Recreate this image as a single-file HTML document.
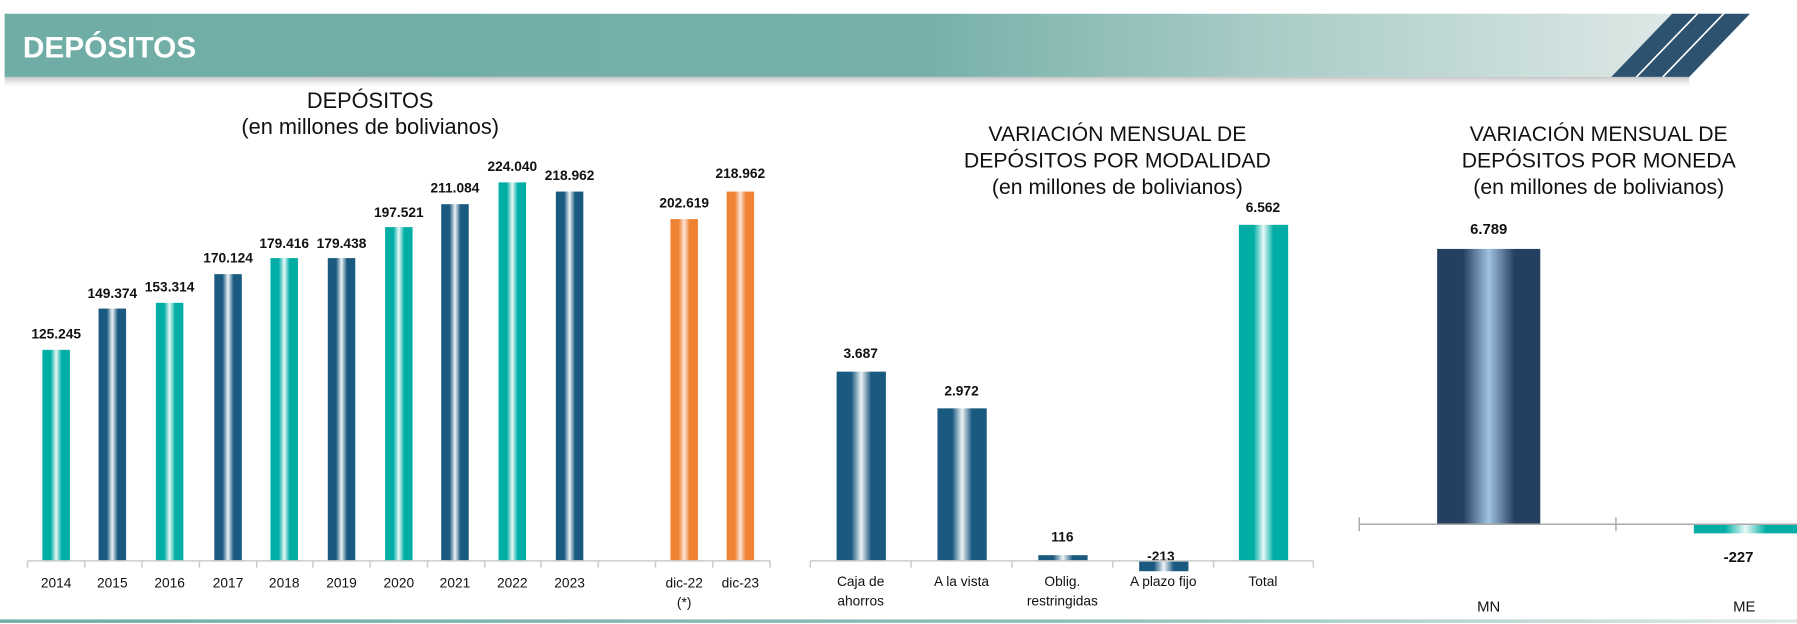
<!DOCTYPE html>
<html><head><meta charset="utf-8"><style>
html,body{margin:0;padding:0;background:#fff;}
svg{display:block;font-family:"Liberation Sans",sans-serif;}
</style></head><body>
<svg width="1797" height="624" viewBox="0 0 1568 544" preserveAspectRatio="none" xmlns="http://www.w3.org/2000/svg">
<defs>
<linearGradient id="hdr" x1="0" x2="1" y1="0" y2="0">
<stop offset="0" stop-color="#6fada6"/><stop offset="0.55" stop-color="#76b0a9"/><stop offset="0.75" stop-color="#a8cbc6"/><stop offset="1" stop-color="#dde8e6"/></linearGradient>
<linearGradient id="sh" x1="0" x2="0" y1="0" y2="1"><stop offset="0" stop-color="#999" stop-opacity="0.6"/><stop offset="1" stop-color="#fff" stop-opacity="0"/></linearGradient>
<linearGradient id="teal" x1="0" x2="1"><stop offset="0" stop-color="#00aea6"/><stop offset="0.3" stop-color="#00aea6"/><stop offset="0.5" stop-color="#e8f8f6"/><stop offset="0.7" stop-color="#00aea6"/><stop offset="1" stop-color="#00aea6"/></linearGradient>
<linearGradient id="blue" x1="0" x2="1"><stop offset="0" stop-color="#1b5a80"/><stop offset="0.3" stop-color="#1b5a80"/><stop offset="0.5" stop-color="#eef3f6"/><stop offset="0.7" stop-color="#1b5a80"/><stop offset="1" stop-color="#1b5a80"/></linearGradient>
<linearGradient id="orng" x1="0" x2="1"><stop offset="0" stop-color="#ef8233"/><stop offset="0.3" stop-color="#ef8233"/><stop offset="0.5" stop-color="#fbe6d6"/><stop offset="0.7" stop-color="#ef8233"/><stop offset="1" stop-color="#ef8233"/></linearGradient>
<linearGradient id="navy" x1="0" x2="1"><stop offset="0" stop-color="#253f60"/><stop offset="0.25" stop-color="#253f60"/><stop offset="0.5" stop-color="#a2c2e2"/><stop offset="0.75" stop-color="#253f60"/><stop offset="1" stop-color="#253f60"/></linearGradient>
<linearGradient id="bl" x1="0" x2="1"><stop offset="0" stop-color="#6fada6"/><stop offset="0.6" stop-color="#8fbfb9"/><stop offset="1" stop-color="#dde8e6"/></linearGradient>
</defs>
<!-- header -->
<rect x="4" y="67" width="1470" height="11" fill="url(#sh)"/>
<polygon points="4,12 1460,12 1406,67 4,67" fill="url(#hdr)"/>
<polygon points="1459,12 1480,12 1427,67 1406,67" fill="#2c5270"/>
<polygon points="1482,12 1503,12 1450,67 1429,67" fill="#2c5270"/>
<polygon points="1505,12 1527,12 1474,67 1452,67" fill="#2c5270"/>
<text x="20" y="50" font-size="26" font-weight="bold" fill="#fff">DEPÓSITOS</text>

<g text-anchor="middle" fill="#111">
<!-- chart 1 -->
<text x="323" y="94" font-size="19">DEPÓSITOS</text>
<text x="323" y="117" font-size="19">(en millones de bolivianos)</text>
<g font-size="12" font-weight="bold">
<rect x="37" y="305" width="24" height="184" fill="url(#teal)"/><text x="49" y="295">125.245</text>
<rect x="86" y="269" width="24" height="220" fill="url(#blue)"/><text x="98" y="260">149.374</text>
<rect x="136" y="264" width="24" height="225" fill="url(#teal)"/><text x="148" y="254">153.314</text>
<rect x="187" y="239" width="24" height="250" fill="url(#blue)"/><text x="199" y="229">170.124</text>
<rect x="236" y="225" width="24" height="264" fill="url(#teal)"/><text x="248" y="216">179.416</text>
<rect x="286" y="225" width="24" height="264" fill="url(#blue)"/><text x="298" y="216">179.438</text>
<rect x="336" y="198" width="24" height="291" fill="url(#teal)"/><text x="348" y="189">197.521</text>
<rect x="385" y="178" width="24" height="311" fill="url(#blue)"/><text x="397" y="168">211.084</text>
<rect x="435" y="159" width="24" height="330" fill="url(#teal)"/><text x="447" y="149">224.040</text>
<rect x="485" y="167" width="24" height="322" fill="url(#blue)"/><text x="497" y="157">218.962</text>
<rect x="585" y="191" width="24" height="298" fill="url(#orng)"/><text x="597" y="181">202.619</text>
<rect x="634" y="167" width="24" height="322" fill="url(#orng)"/><text x="646" y="155">218.962</text>
</g>
<path d="M24 489H672 M24 489v6M74 489v6M124 489v6M174 489v6M224 489v6M273 489v6M323 489v6M373 489v6M423 489v6M472 489v6M522 489v6M572 489v6M622 489v6M672 489v6" stroke="#ccc" stroke-width="1.3" fill="none"/>
<g font-size="12">
<text x="49" y="512">2014</text><text x="98" y="512">2015</text><text x="148" y="512">2016</text><text x="199" y="512">2017</text><text x="248" y="512">2018</text><text x="298" y="512">2019</text><text x="348" y="512">2020</text><text x="397" y="512">2021</text><text x="447" y="512">2022</text><text x="497" y="512">2023</text><text x="597" y="512">dic-22</text><text x="597" y="529">(*)</text><text x="646" y="512">dic-23</text>
</g>

<!-- chart 2 -->
<text x="975" y="123" font-size="18.5">VARIACIÓN MENSUAL DE</text>
<text x="975" y="146" font-size="18.5">DEPÓSITOS POR MODALIDAD</text>
<text x="975" y="169" font-size="18.5">(en millones de bolivianos)</text>
<g font-size="12" font-weight="bold">
<rect x="730" y="324" width="43" height="165" fill="url(#blue)"/><text x="751" y="312">3.687</text>
<rect x="818" y="356" width="43" height="133" fill="url(#blue)"/><text x="839" y="345">2.972</text>
<rect x="906" y="484" width="43" height="5" fill="url(#blue)"/><text x="927" y="472">116</text>
<rect x="994" y="489" width="43" height="9" fill="url(#blue)"/><text x="1013" y="489">-213</text>
<rect x="1081" y="196" width="43" height="293" fill="url(#teal)"/><text x="1102" y="185">6.562</text>
</g>
<path d="M707 489H1146 M707 489v6M795 489v6M883 489v6M971 489v6M1059 489v6M1146 489v6" stroke="#ccc" stroke-width="1.3" fill="none"/>
<g font-size="12">
<text x="751" y="511">Caja de</text><text x="751" y="528">ahorros</text>
<text x="839" y="511">A la vista</text>
<text x="927" y="511">Oblig.</text><text x="927" y="528">restringidas</text>
<text x="1015" y="511">A plazo fijo</text>
<text x="1102" y="511">Total</text>
</g>

<!-- chart 3 -->
<text x="1395" y="123" font-size="18.5">VARIACIÓN MENSUAL DE</text>
<text x="1395" y="146" font-size="18.5">DEPÓSITOS POR MONEDA</text>
<text x="1395" y="169" font-size="18.5">(en millones de bolivianos)</text>
<rect x="1254" y="217" width="90" height="240" fill="url(#navy)"/>
<rect x="1478" y="457" width="90" height="8" fill="url(#teal)"/>
<path d="M1186 457H1568 M1186 451v12 M1410 451v12" stroke="#aaa" stroke-width="1.3" fill="none"/>
<g font-size="13" font-weight="bold"><text x="1299" y="204">6.789</text><text x="1517" y="490">-227</text></g>
<g font-size="13"><text x="1299" y="533">MN</text><text x="1522" y="533">ME</text></g>
</g>
<rect x="0" y="540" width="1568" height="3" fill="url(#bl)"/>
</svg>
</body></html>
